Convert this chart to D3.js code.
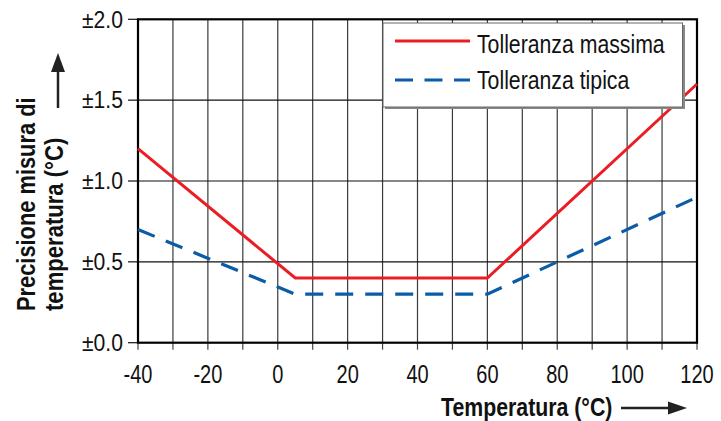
<!DOCTYPE html>
<html>
<head>
<meta charset="utf-8">
<script src="https://cdn.jsdelivr.net/npm/d3@7"></script>
<style>
  html, body { margin: 0; padding: 0; background: #fff; }
  svg { display: block; }
  text { font-family: "Liberation Sans", Arial, Helvetica, sans-serif; fill: #111; }
</style>
</head>
<body>
<svg id="chart" width="721" height="421"></svg>
<script>
// ---- Data ----
const tempMax = [-40, 5, 60, 120];
const tolMax = [1.2, 0.4, 0.4, 1.6];
const tempTyp = [-40, 5, 60, 120];
const tolTyp = [0.7, 0.3, 0.3, 0.9];
const seriesNames = ["Tolleranza massima", "Tolleranza tipica"];
const xTicks = [-40, -20, 0, 20, 40, 60, 80, 100, 120];
const xGrid = d3.range(-40, 121, 10);
const yTicks = [0, 0.5, 1.0, 1.5, 2.0];
const yTickLabels = ["±0.0", "±0.5", "±1.0", "±1.5", "±2.0"];
const xTitle = "Temperatura (°C)";
const yTitle = ["Precisione misura di", "temperatura (°C)"];

const red = "#ec1c24", blue = "#0b5ca8";

const svg = d3.select("#chart");
const L = 138, R = 697, T = 19.3, B = 342.7;
const x = d3.scaleLinear().domain([-40, 120]).range([L, R]);
const y = d3.scaleLinear().domain([0, 2]).range([B, T]);

// condensed text helper
function ctext(g, px, py, s, str, size, anchor, weight, rot) {
  return g.append("text")
    .attr("transform", `translate(${px},${py})` + (rot ? ` rotate(${rot})` : "") + ` scale(${s},1)`)
    .attr("font-size", size).attr("text-anchor", anchor || "start")
    .attr("font-weight", weight || "normal").text(str);
}

// grid
svg.append("g").selectAll("line").data(xGrid.slice(1, -1)).join("line")
  .attr("x1", d => x(d)).attr("x2", d => x(d)).attr("y1", T).attr("y2", B)
  .attr("stroke", "#3a3a3a").attr("stroke-width", 1.2);
svg.append("g").selectAll("line").data(yTicks.slice(1, -1)).join("line")
  .attr("x1", L).attr("x2", R).attr("y1", d => y(d)).attr("y2", d => y(d))
  .attr("stroke", "#111").attr("stroke-width", 1.2);

// x ticks
svg.append("g").selectAll("line").data(xGrid).join("line")
  .attr("x1", d => x(d)).attr("x2", d => x(d)).attr("y1", B).attr("y2", B + 7)
  .attr("stroke", "#444").attr("stroke-width", 1.2);
// y ticks
svg.append("g").selectAll("line").data(yTicks).join("line")
  .attr("x1", L - 10).attr("x2", L).attr("y1", d => y(d)).attr("y2", d => y(d))
  .attr("stroke", "#111").attr("stroke-width", 1.2);

// frame
svg.append("rect").attr("x", L).attr("y", T).attr("width", R - L).attr("height", B - T)
  .attr("fill", "none").attr("stroke", "#000").attr("stroke-width", 2.2);

// tick labels
const gx = svg.append("g");
xTicks.forEach(d => ctext(gx, x(d), 383, 0.8, String(d), 25, "middle"));
const gy = svg.append("g");
yTicks.forEach((d, i) => ctext(gy, 123, y(d) + 8.2, 0.92, yTickLabels[i], 23, "end"));

// lines
const line = d3.line().x(d => x(d[0])).y(d => y(d[1]));
svg.append("path").datum(tempTyp.map((t, i) => [t, tolTyp[i]]))
  .attr("d", line).attr("fill", "none").attr("stroke", blue).attr("stroke-width", 3.2)
  .attr("stroke-dasharray", "18,12");
svg.append("path").datum(tempMax.map((t, i) => [t, tolMax[i]]))
  .attr("d", line).attr("fill", "none").attr("stroke", red).attr("stroke-width", 3);

// legend
svg.append("rect").attr("x", 385).attr("y", 25).attr("width", 300).attr("height", 84)
  .attr("fill", "#888");
svg.append("rect").attr("x", 383).attr("y", 23).attr("width", 299.5).attr("height", 84)
  .attr("fill", "#fff").attr("stroke", "#666").attr("stroke-width", 1);
svg.append("line").attr("x1", 395).attr("x2", 470).attr("y1", 41).attr("y2", 41)
  .attr("stroke", red).attr("stroke-width", 3);
svg.append("line").attr("x1", 395).attr("x2", 470).attr("y1", 80).attr("y2", 80)
  .attr("stroke", blue).attr("stroke-width", 3.2).attr("stroke-dasharray", "18,11.5");
const gl = svg.append("g");
ctext(gl, 477, 53, 0.85, seriesNames[0], 25);
ctext(gl, 477, 89, 0.85, seriesNames[1], 25);

// axis titles
ctext(svg, 441, 416, 0.835, xTitle, 25.5, "start", "bold");
svg.append("line").attr("x1", 621).attr("x2", 672).attr("y1", 408).attr("y2", 408)
  .attr("stroke", "#222").attr("stroke-width", 2.5);
svg.append("path").attr("d", "M668,401.5 L687,408 L668,414.5 Z").attr("fill", "#222");

ctext(svg, 35, 311, 0.84, yTitle[0], 26, "start", "bold", -90);
ctext(svg, 63, 311, 0.85, yTitle[1], 26, "start", "bold", -90);
svg.append("line").attr("x1", 58).attr("x2", 58).attr("y1", 108).attr("y2", 68)
  .attr("stroke", "#222").attr("stroke-width", 2.5);
svg.append("path").attr("d", "M51,72 L58,53 L65,72 Z").attr("fill", "#222");
</script>
</body>
</html>
